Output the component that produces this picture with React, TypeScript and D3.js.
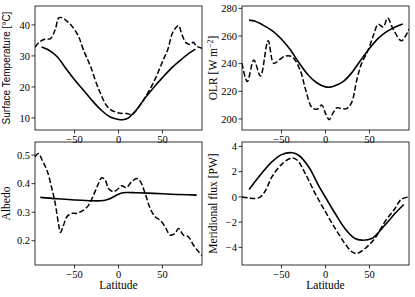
import React from 'react';
import { scaleLinear, line, curveCatmullRom } from 'd3';

// latitude grids
const latFitT = [-87.5, -80, -70, -60, -50, -40, -30, -20, -10, 0, 5, 10, 20, 30, 40, 50, 60, 70, 80, 87.5];
const tempFit = [32.9, 32.0, 29.8, 26.0, 22.3, 19.0, 15.6, 12.6, 10.4, 9.5, 9.4, 9.8, 12.5, 16.3, 19.8, 23.0, 26.0, 28.5, 30.8, 32.2];
const latObsT = [-95, -89, -83, -77.7, -72, -68, -64, -58.7, -53, -45.5, -40, -32, -21.6, -11.4, 0, 9.5, 15, 19.7, 25, 30, 40.5, 51, 56, 61.4, 66.3, 68.6, 71.6, 77, 81.8, 85, 89, 95];
const tempObs = [32.8, 34.7, 35.5, 35.5, 38.5, 42.3, 42.3, 41.2, 39.6, 36.3, 32, 26.7, 18.6, 13.2, 11.6, 11.4, 11.1, 12.2, 14.3, 16.5, 21.8, 28.8, 32, 37.4, 39.4, 39.8, 37.4, 34.2, 33.7, 34.4, 33.1, 32.5];

const latFitO = [-87, -80, -70, -60, -50, -40, -30, -20, -10, 0, 5, 10, 20, 30, 40, 50, 60, 70, 80, 88];
const olrFit = [271.5, 270.6, 267.5, 263.5, 257.6, 250, 240.5, 232, 226.2, 223.2, 223, 223.8, 227, 233.5, 242.5, 251, 258.3, 263.3, 266.7, 268.6];
const latObsO = [-95, -89, -81.5, -74, -65.3, -58.9, -52, -45.7, -38, -28.7, -23, -15.5, -9.8, -4.2, 0, 4.2, 8.3, 12.8, 18.5, 24, 29.8, 35.5, 41, 48.7, 54.3, 60, 65.7, 70.6, 77, 86.4, 95];
const olrObs = [240.2, 227, 242.6, 231, 256.6, 240.2, 243, 245.5, 245, 235, 222, 208.4, 207, 210, 204, 199.5, 204, 208, 207.5, 207.5, 212, 228, 240, 250, 260, 268.5, 266.5, 273, 265, 256.6, 265];

const latFitA = [-89, -70, -50, -30, -20, -15, -10, -5, 0, 5, 10, 20, 40, 60, 80, 89];
const albFit = [0.352, 0.347, 0.343, 0.340, 0.340, 0.342, 0.347, 0.355, 0.363, 0.368, 0.369, 0.368, 0.366, 0.363, 0.361, 0.360];
const latObsA = [-95, -91, -87, -81.4, -75.8, -72, -68, -66, -62.5, -58.7, -53, -47.3, -39.8, -34, -28.4, -22.7, -19, -15, -11.4, -5.7, 0, 3.8, 8.7, 15, 20.8, 24.6, 30.3, 36, 41.7, 47.3, 53, 58.7, 64.4, 68.2, 73.9, 79.5, 85.2, 91, 95];
const albObs = [0.494, 0.506, 0.483, 0.447, 0.383, 0.331, 0.255, 0.229, 0.255, 0.284, 0.296, 0.296, 0.307, 0.325, 0.36, 0.401, 0.421, 0.412, 0.383, 0.372, 0.383, 0.393, 0.386, 0.407, 0.418, 0.409, 0.366, 0.313, 0.284, 0.272, 0.249, 0.22, 0.226, 0.243, 0.22, 0.214, 0.185, 0.162, 0.148];

const latFitF = [-87, -76, -61, -50, -38, -30.6, -19, -8, 0.8, 11, 22, 33.6, 41, 52.5, 67.5, 79, 89];
const fluxFit = [0.58, 1.58, 2.77, 3.35, 3.5, 3.3, 2.37, 0.92, -0.13, -1.32, -2.5, -3.3, -3.43, -3.3, -2.24, -1.32, -0.6];
const latObsF = [-95, -87, -80, -74, -68, -61, -49, -38, -32, -23, -11.7, 0, 11, 22, 30, 35.5, 45, 56, 67.5, 79, 86, 95];
const fluxObs = [0, -0.08, -0.13, 0, 0.53, 1.58, 2.64, 3.09, 2.9, 1.85, 0.26, -1.19, -2.5, -3.69, -4.35, -4.49, -4.09, -3.3, -1.98, -0.92, -0.21, 0];

const latTicks = [-50, 0, 50];
const serif = "'Liberation Serif', 'DejaVu Serif', serif";
const sans = "'Liberation Sans', Arial, sans-serif";

const fmt = (v: number) => (v < 0 ? '\u2212' + Math.abs(v) : String(v));

type PanelProps = {
  left: number; top: number; width: number; height: number;
  yDomain: [number, number]; yTicks: number[]; yFmt?: (v: number) => string;
  label: React.ReactNode; labelFont?: string; showXLabel?: boolean;
  fitLat: number[]; fit: number[]; obsLat: number[]; obs: number[];
};

function Panel(p: PanelProps) {
  const x = scaleLinear().domain([-95, 95]).range([p.left, p.left + p.width]);
  const y = scaleLinear().domain(p.yDomain).range([p.top + p.height, p.top]);
  const gen = line<[number, number]>().x(d => x(d[0])).y(d => y(d[1])).curve(curveCatmullRom);
  const fitPath = gen(p.fitLat.map((l, i) => [l, p.fit[i]] as [number, number])) || '';
  const obsPath = gen(p.obsLat.map((l, i) => [l, p.obs[i]] as [number, number])) || '';
  const bottom = p.top + p.height;
  const yf = p.yFmt || fmt;
  return (
    <g>
      <clipPath id={`clip${p.left}${p.top}`}>
        <rect x={p.left} y={p.top} width={p.width} height={p.height} />
      </clipPath>
      <g clipPath={`url(#clip${p.left}${p.top})`}>
        <path d={obsPath} fill="none" stroke="#000" strokeWidth={1.5} strokeDasharray="5.5,2.4" />
        <path d={fitPath} fill="none" stroke="#000" strokeWidth={1.6} />
      </g>
      <rect x={p.left} y={p.top} width={p.width} height={p.height} fill="none" stroke="#000" strokeWidth={0.8} />
      {p.yTicks.map(t => (
        <g key={t}>
          <line x1={p.left - 3.5} x2={p.left} y1={y(t)} y2={y(t)} stroke="#000" strokeWidth={0.8} />
          <text x={p.left - 5} y={y(t)} dy="0.35em" textAnchor="end" fontFamily={serif} fontSize={10.5}>{yf(t)}</text>
        </g>
      ))}
      {latTicks.map(t => (
        <g key={t}>
          <line x1={x(t)} x2={x(t)} y1={bottom} y2={bottom + 3.5} stroke="#000" strokeWidth={0.8} />
          <text x={x(t)} y={bottom + 5} dy="0.75em" textAnchor="middle" fontFamily={serif} fontSize={10.5}>{fmt(t)}</text>
        </g>
      ))}
      <text transform={`translate(${p.left - 25},${p.top + p.height / 2}) rotate(-90)`} textAnchor="middle"
        fontFamily={p.labelFont || serif} fontSize={p.labelFont ? 10 : 11.5}>{p.label}</text>
      {p.showXLabel && (
        <text x={p.left + p.width / 2} y={bottom + 24} textAnchor="middle" fontFamily={serif} fontSize={11.5}>Latitude</text>
      )}
    </g>
  );
}

export default function App() {
  return (
    <svg width={415} height={297} style={{ position: 'absolute', left: 0, top: 0, background: '#fff' }}>
      <Panel left={35} top={6} width={167} height={124} yDomain={[6.1, 46.1]} yTicks={[10, 20, 30, 40]}
        label="Surface Temperature [°C]" labelFont={sans}
        fitLat={latFitT} fit={tempFit} obsLat={latObsT} obs={tempObs} />
      <Panel left={242} top={6} width={167} height={124} yDomain={[192, 281.7]} yTicks={[200, 220, 240, 260, 280]}
        label={<>OLR [W m<tspan dy="-4" fontSize={8}>−2</tspan><tspan dy="4">]</tspan></>}
        fitLat={latFitO} fit={olrFit} obsLat={latObsO} obs={olrObs} />
      <Panel left={35} top={142} width={167} height={123} yDomain={[0.115, 0.546]} yTicks={[0.2, 0.3, 0.4, 0.5]}
        yFmt={v => v.toFixed(1)} label="Albedo" showXLabel
        fitLat={latFitA} fit={albFit} obsLat={latObsA} obs={albObs} />
      <Panel left={242} top={142} width={167} height={123} yDomain={[-5.4, 4.35]} yTicks={[-4, -2, 0, 2, 4]}
        label="Meridional flux [PW]" showXLabel
        fitLat={latFitF} fit={fluxFit} obsLat={latObsF} obs={fluxObs} />
    </svg>
  );
}
